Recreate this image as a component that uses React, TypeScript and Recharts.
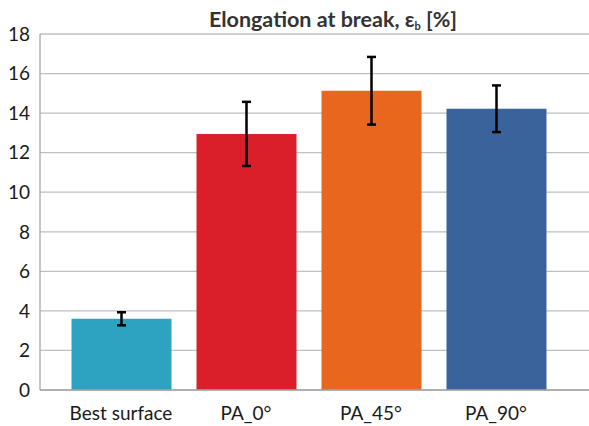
import React from 'react';
import { BarChart, Bar, XAxis, YAxis, CartesianGrid, ErrorBar, Cell } from 'recharts';

const categories = ['Best surface', 'PA_0°', 'PA_45°', 'PA_90°'];
const values = [3.6, 12.95, 15.13, 14.22];
const errors = [0.33, 1.62, 1.71, 1.18];
const colors = ['#2ea3c1', '#da1f2b', '#e9661f', '#3a639c'];
const yTicks = [0, 2, 4, 6, 8, 10, 12, 14, 16, 18];

const data = categories.map((name, i) => ({ name, value: values[i], err: errors[i] }));

const FONT = 'Lato, "Open Sans", sans-serif';

export default function App() {
  return (
    <div style={{ position: 'absolute', left: 0, top: 0, width: 589, height: 426, background: '#fff' }}>
      <div
        style={{
          position: 'absolute',
          left: 0,
          width: 589,
          top: 5,
          paddingLeft: 77,
          boxSizing: 'border-box',
          textAlign: 'center',
          fontFamily: FONT,
          fontWeight: 700,
          fontSize: 21.5,
          color: '#333',
          lineHeight: '28px',
          whiteSpace: 'nowrap',
        }}
      >
        Elongation at break, ε<sub style={{ fontSize: 11, verticalAlign: -3 }}>b</sub> [%]
      </div>
      <BarChart
        width={589}
        height={426}
        data={data}
        margin={{ top: 34, right: 0, bottom: 0, left: 0 }}
        barCategoryGap={0}
      >
        <CartesianGrid vertical={false} stroke="#bfbfbf" strokeWidth={1.3} />
        <XAxis
          dataKey="name"
          height={36}
          padding={{ left: 18.5, right: 30.5 }}
          axisLine={{ stroke: '#a6a6a6', strokeWidth: 1.3 }}
          tickLine={false}
          tick={{ fontFamily: FONT, fontSize: 19, fill: '#1a1a1a' }}
          tickMargin={11}
          interval={0}
        />
        <YAxis
          width={40}
          domain={[0, 18]}
          ticks={yTicks}
          axisLine={{ stroke: '#a6a6a6', strokeWidth: 1.3 }}
          tickLine={false}
          tick={{ fontFamily: FONT, fontSize: 19, fill: '#1a1a1a' }}
          tickMargin={4}
          interval={0}
        />
        <Bar dataKey="value" barSize={100} isAnimationActive={false}>
          {data.map((d, i) => (
            <Cell key={d.name} fill={colors[i]} />
          ))}
          <ErrorBar dataKey="err" width={4.5} stroke="#000" strokeWidth={2.5} direction="y" />
        </Bar>
      </BarChart>
    </div>
  );
}
